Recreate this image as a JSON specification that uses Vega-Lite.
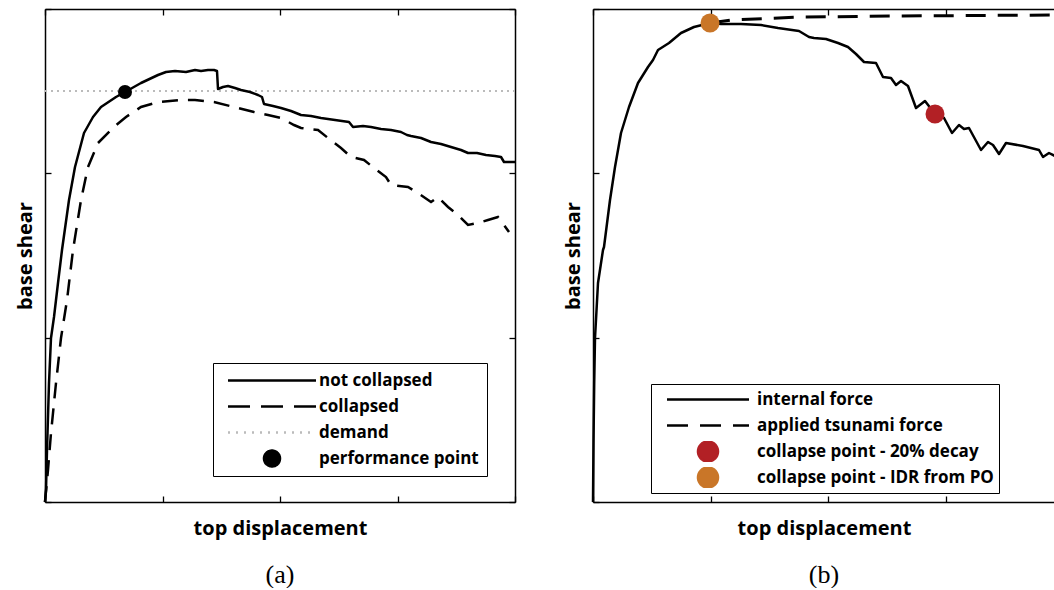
{
  "$schema": "https://vega.github.io/schema/vega-lite/v6.json",
  "background": "white",
  "padding": {"left": 15, "top": 8, "right": 0, "bottom": 0},
  "spacing": 78,
  "bounds": "flush",
  "datasets": {
    "a": [
      {"series": "demand", "x": 0, "y": 411},
      {"series": "demand", "x": 470, "y": 411},
      {"series": "not collapsed", "x": 0, "y": 0},
      {"series": "not collapsed", "x": 1, "y": 12},
      {"series": "not collapsed", "x": 2, "y": 52},
      {"series": "not collapsed", "x": 4, "y": 119},
      {"series": "not collapsed", "x": 6, "y": 164},
      {"series": "not collapsed", "x": 9, "y": 185},
      {"series": "not collapsed", "x": 13, "y": 219},
      {"series": "not collapsed", "x": 17, "y": 252},
      {"series": "not collapsed", "x": 24, "y": 302},
      {"series": "not collapsed", "x": 30, "y": 335},
      {"series": "not collapsed", "x": 39, "y": 369},
      {"series": "not collapsed", "x": 48, "y": 385},
      {"series": "not collapsed", "x": 56, "y": 395},
      {"series": "not collapsed", "x": 71, "y": 405},
      {"series": "not collapsed", "x": 80, "y": 410},
      {"series": "not collapsed", "x": 96, "y": 419},
      {"series": "not collapsed", "x": 113, "y": 427},
      {"series": "not collapsed", "x": 121, "y": 430},
      {"series": "not collapsed", "x": 130, "y": 431},
      {"series": "not collapsed", "x": 141, "y": 430},
      {"series": "not collapsed", "x": 150, "y": 432},
      {"series": "not collapsed", "x": 156, "y": 431},
      {"series": "not collapsed", "x": 163, "y": 432},
      {"series": "not collapsed", "x": 169, "y": 432},
      {"series": "not collapsed", "x": 172, "y": 431},
      {"series": "not collapsed", "x": 173, "y": 413},
      {"series": "not collapsed", "x": 178, "y": 415},
      {"series": "not collapsed", "x": 183, "y": 416},
      {"series": "not collapsed", "x": 190, "y": 414},
      {"series": "not collapsed", "x": 196, "y": 412},
      {"series": "not collapsed", "x": 205, "y": 410},
      {"series": "not collapsed", "x": 213, "y": 407},
      {"series": "not collapsed", "x": 217, "y": 405},
      {"series": "not collapsed", "x": 219, "y": 398},
      {"series": "not collapsed", "x": 228, "y": 396},
      {"series": "not collapsed", "x": 236, "y": 394},
      {"series": "not collapsed", "x": 246, "y": 391},
      {"series": "not collapsed", "x": 256, "y": 387},
      {"series": "not collapsed", "x": 266, "y": 386},
      {"series": "not collapsed", "x": 276, "y": 384},
      {"series": "not collapsed", "x": 290, "y": 382},
      {"series": "not collapsed", "x": 304, "y": 380},
      {"series": "not collapsed", "x": 308, "y": 375},
      {"series": "not collapsed", "x": 318, "y": 376},
      {"series": "not collapsed", "x": 326, "y": 375},
      {"series": "not collapsed", "x": 336, "y": 373},
      {"series": "not collapsed", "x": 346, "y": 372},
      {"series": "not collapsed", "x": 356, "y": 370},
      {"series": "not collapsed", "x": 362, "y": 367},
      {"series": "not collapsed", "x": 366, "y": 366},
      {"series": "not collapsed", "x": 376, "y": 364},
      {"series": "not collapsed", "x": 386, "y": 360},
      {"series": "not collapsed", "x": 396, "y": 358},
      {"series": "not collapsed", "x": 406, "y": 355},
      {"series": "not collapsed", "x": 416, "y": 352},
      {"series": "not collapsed", "x": 423, "y": 349},
      {"series": "not collapsed", "x": 432, "y": 349},
      {"series": "not collapsed", "x": 441, "y": 347},
      {"series": "not collapsed", "x": 450, "y": 346},
      {"series": "not collapsed", "x": 456, "y": 345},
      {"series": "not collapsed", "x": 459, "y": 340},
      {"series": "not collapsed", "x": 470, "y": 340},
      {"series": "collapsed", "x": 0, "y": 0},
      {"series": "collapsed", "x": 3, "y": 32},
      {"series": "collapsed", "x": 6, "y": 69},
      {"series": "collapsed", "x": 11, "y": 119},
      {"series": "collapsed", "x": 16, "y": 164},
      {"series": "collapsed", "x": 22, "y": 202},
      {"series": "collapsed", "x": 28, "y": 252},
      {"series": "collapsed", "x": 36, "y": 302},
      {"series": "collapsed", "x": 43, "y": 335},
      {"series": "collapsed", "x": 53, "y": 359},
      {"series": "collapsed", "x": 69, "y": 375},
      {"series": "collapsed", "x": 81, "y": 385},
      {"series": "collapsed", "x": 96, "y": 395},
      {"series": "collapsed", "x": 113, "y": 400},
      {"series": "collapsed", "x": 136, "y": 402},
      {"series": "collapsed", "x": 150, "y": 402},
      {"series": "collapsed", "x": 169, "y": 400},
      {"series": "collapsed", "x": 189, "y": 395},
      {"series": "collapsed", "x": 209, "y": 390},
      {"series": "collapsed", "x": 223, "y": 387},
      {"series": "collapsed", "x": 236, "y": 384},
      {"series": "collapsed", "x": 249, "y": 377},
      {"series": "collapsed", "x": 256, "y": 374},
      {"series": "collapsed", "x": 273, "y": 372},
      {"series": "collapsed", "x": 283, "y": 364},
      {"series": "collapsed", "x": 296, "y": 354},
      {"series": "collapsed", "x": 306, "y": 345},
      {"series": "collapsed", "x": 319, "y": 342},
      {"series": "collapsed", "x": 329, "y": 334},
      {"series": "collapsed", "x": 341, "y": 325},
      {"series": "collapsed", "x": 346, "y": 317},
      {"series": "collapsed", "x": 363, "y": 315},
      {"series": "collapsed", "x": 373, "y": 309},
      {"series": "collapsed", "x": 386, "y": 300},
      {"series": "collapsed", "x": 393, "y": 305},
      {"series": "collapsed", "x": 403, "y": 295},
      {"series": "collapsed", "x": 413, "y": 287},
      {"series": "collapsed", "x": 423, "y": 277},
      {"series": "collapsed", "x": 433, "y": 279},
      {"series": "collapsed", "x": 443, "y": 282},
      {"series": "collapsed", "x": 453, "y": 285},
      {"series": "collapsed", "x": 459, "y": 277},
      {"series": "collapsed", "x": 464, "y": 270},
      {"series": "performance point", "x": 80, "y": 410}
    ],
    "b": [
      {"series": "internal force", "x": 0, "y": 0},
      {"series": "internal force", "x": 0.5, "y": 60},
      {"series": "internal force", "x": 1.2, "y": 119},
      {"series": "internal force", "x": 2, "y": 164},
      {"series": "internal force", "x": 5, "y": 219},
      {"series": "internal force", "x": 10, "y": 252},
      {"series": "internal force", "x": 11, "y": 255},
      {"series": "internal force", "x": 17, "y": 302},
      {"series": "internal force", "x": 22, "y": 335},
      {"series": "internal force", "x": 28, "y": 369},
      {"series": "internal force", "x": 36, "y": 395},
      {"series": "internal force", "x": 45, "y": 419},
      {"series": "internal force", "x": 55, "y": 435},
      {"series": "internal force", "x": 60, "y": 442},
      {"series": "internal force", "x": 65, "y": 452},
      {"series": "internal force", "x": 76, "y": 459},
      {"series": "internal force", "x": 88, "y": 469},
      {"series": "internal force", "x": 101, "y": 475},
      {"series": "internal force", "x": 117, "y": 479},
      {"series": "internal force", "x": 128, "y": 478},
      {"series": "internal force", "x": 148, "y": 478},
      {"series": "internal force", "x": 168, "y": 477},
      {"series": "internal force", "x": 185, "y": 474},
      {"series": "internal force", "x": 206, "y": 471},
      {"series": "internal force", "x": 216, "y": 465},
      {"series": "internal force", "x": 221, "y": 464},
      {"series": "internal force", "x": 233, "y": 463},
      {"series": "internal force", "x": 245, "y": 459},
      {"series": "internal force", "x": 255, "y": 455},
      {"series": "internal force", "x": 263, "y": 448},
      {"series": "internal force", "x": 271, "y": 440},
      {"series": "internal force", "x": 283, "y": 439},
      {"series": "internal force", "x": 290, "y": 425},
      {"series": "internal force", "x": 298, "y": 424},
      {"series": "internal force", "x": 303, "y": 417},
      {"series": "internal force", "x": 308, "y": 421},
      {"series": "internal force", "x": 315, "y": 416},
      {"series": "internal force", "x": 323, "y": 394},
      {"series": "internal force", "x": 332, "y": 401},
      {"series": "internal force", "x": 342, "y": 388},
      {"series": "internal force", "x": 351, "y": 384},
      {"series": "internal force", "x": 359, "y": 369},
      {"series": "internal force", "x": 366, "y": 377},
      {"series": "internal force", "x": 371, "y": 373},
      {"series": "internal force", "x": 376, "y": 374},
      {"series": "internal force", "x": 388, "y": 352},
      {"series": "internal force", "x": 395, "y": 360},
      {"series": "internal force", "x": 400, "y": 357},
      {"series": "internal force", "x": 406, "y": 348},
      {"series": "internal force", "x": 413, "y": 359},
      {"series": "internal force", "x": 430, "y": 356},
      {"series": "internal force", "x": 446, "y": 352},
      {"series": "internal force", "x": 450, "y": 345},
      {"series": "internal force", "x": 456, "y": 349},
      {"series": "internal force", "x": 462, "y": 346},
      {"series": "applied tsunami force", "x": 117, "y": 479},
      {"series": "applied tsunami force", "x": 138, "y": 482},
      {"series": "applied tsunami force", "x": 208, "y": 485},
      {"series": "applied tsunami force", "x": 308, "y": 486},
      {"series": "applied tsunami force", "x": 462, "y": 487},
      {"series": "collapse point - 20% decay", "x": 342, "y": 388},
      {"series": "collapse point - IDR from PO", "x": 117, "y": 479}
    ]
  },
  "hconcat": [
    {
      "width": 470,
      "height": 493,
      "title": {"text": "(a)"},
      "data": {"name": "a"},
      "layer": [
        {
          "transform": [{"filter": "datum.series === 'demand'"}],
          "mark": {"type": "line", "strokeDash": [2, 4], "strokeWidth": 2},
          "encoding": {
            "x": {"field": "x", "type": "quantitative", "scale": {"domain": [0, 470], "nice": false, "zero": false}, "axis": {"orient": "bottom", "title": "top displacement", "values": [0, 117.5, 235, 352.5, 470]}},
            "y": {"field": "y", "type": "quantitative", "scale": {"domain": [0, 493], "nice": false, "zero": false}, "axis": {"orient": "left", "title": "base shear", "values": [0, 164.33, 328.67, 493]}},
            "color": {
              "field": "series", "type": "nominal",
              "scale": {"domain": ["not collapsed", "collapsed", "demand", "performance point"], "range": ["black", "black", "#bbbbbb", "black"]},
              "legend": {
                "title": null, "orient": "none", "legendX": 168, "legendY": 354,
                "padding": 8, "rowPadding": 7, "clipHeight": 19, "symbolSize": 256, "symbolOffset": 41.5, "labelOffset": 37.5,
                "encode": {
                  "symbols": {"update": {
                    "shape": {"signal": "datum.value === 'performance point' ? 'circle' : 'M-5.5,0H5.5'"},
                    "fill": {"signal": "datum.value === 'performance point' ? 'black' : 'transparent'"},
                    "stroke": {"signal": "datum.value === 'performance point' ? 'transparent' : (datum.value === 'demand' ? '#bbbbbb' : 'black')"},
                    "strokeDash": {"signal": "datum.value === 'collapsed' ? [22, 11] : (datum.value === 'demand' ? [2, 6] : [1, 0])"},
                    "opacity": {"value": 1}
                  }}
                }
              }
            }
          }
        },
        {
          "transform": [{"filter": "datum.series === 'collapsed'"}],
          "mark": {"type": "line", "strokeDash": [16, 10], "strokeWidth": 2.5},
          "encoding": {
            "x": {"field": "x", "type": "quantitative", "scale": {"domain": [0, 470], "nice": false, "zero": false}, "axis": null},
            "y": {"field": "y", "type": "quantitative", "scale": {"domain": [0, 493], "nice": false, "zero": false}, "axis": null},
            "color": {"field": "series", "type": "nominal"}
          }
        },
        {
          "transform": [{"filter": "datum.series === 'not collapsed'"}],
          "mark": {"type": "line", "strokeWidth": 2.5, "strokeJoin": "round"},
          "encoding": {
            "x": {"field": "x", "type": "quantitative", "scale": {"domain": [0, 470], "nice": false, "zero": false}, "axis": null},
            "y": {"field": "y", "type": "quantitative", "scale": {"domain": [0, 493], "nice": false, "zero": false}, "axis": null},
            "color": {"field": "series", "type": "nominal"}
          }
        },
        {
          "transform": [{"filter": "datum.series === 'performance point'"}],
          "mark": {"type": "point", "filled": true, "size": 196, "opacity": 1},
          "encoding": {
            "x": {"field": "x", "type": "quantitative", "scale": {"domain": [0, 470], "nice": false, "zero": false}, "axis": {"orient": "top", "title": null, "values": [0, 117.5, 235, 352.5, 470]}},
            "y": {"field": "y", "type": "quantitative", "scale": {"domain": [0, 493], "nice": false, "zero": false}, "axis": {"orient": "right", "title": null, "values": [0, 164.33, 328.67, 493]}},
            "color": {"field": "series", "type": "nominal"}
          }
        }
      ],
      "resolve": {"axis": {"x": "independent", "y": "independent"}}
    },
    {
      "width": 462,
      "height": 493,
      "title": {"text": "(b)"},
      "data": {"name": "b"},
      "layer": [
        {
          "transform": [{"filter": "datum.series === 'applied tsunami force'"}],
          "mark": {"type": "line", "strokeDash": [20, 12], "strokeWidth": 3},
          "encoding": {
            "x": {"field": "x", "type": "quantitative", "scale": {"domain": [0, 462], "nice": false, "zero": false}, "axis": {"orient": "bottom", "title": "top displacement", "values": [0, 117.5, 235, 352.5]}},
            "y": {"field": "y", "type": "quantitative", "scale": {"domain": [0, 493], "nice": false, "zero": false}, "axis": {"orient": "left", "title": "base shear", "values": [0, 164.33, 328.67, 493]}},
            "color": {
              "field": "series", "type": "nominal",
              "scale": {"domain": ["internal force", "applied tsunami force", "collapse point - 20% decay", "collapse point - IDR from PO"], "range": ["black", "black", "#b22025", "#c97628"]},
              "legend": {
                "title": null, "orient": "none", "legendX": 58, "legendY": 375,
                "padding": 5, "rowPadding": 5, "clipHeight": 21, "symbolSize": 400, "symbolOffset": 40.5, "labelOffset": 37.5,
                "encode": {
                  "symbols": {"update": {
                    "shape": {"signal": "indexof(datum.value, 'collapse') === 0 ? 'circle' : 'M-4.1,0H4.1'"},
                    "fill": {"signal": "datum.value === 'collapse point - 20% decay' ? '#b22025' : (datum.value === 'collapse point - IDR from PO' ? '#c97628' : 'transparent')"},
                    "stroke": {"signal": "indexof(datum.value, 'collapse') === 0 ? 'transparent' : 'black'"},
                    "strokeDash": {"signal": "datum.value === 'applied tsunami force' ? [21, 12] : [1, 0]"},
                    "opacity": {"value": 1}
                  }}
                }
              }
            }
          }
        },
        {
          "transform": [{"filter": "datum.series === 'internal force'"}],
          "mark": {"type": "line", "strokeWidth": 2.5, "strokeJoin": "round"},
          "encoding": {
            "x": {"field": "x", "type": "quantitative", "scale": {"domain": [0, 462], "nice": false, "zero": false}, "axis": null},
            "y": {"field": "y", "type": "quantitative", "scale": {"domain": [0, 493], "nice": false, "zero": false}, "axis": null},
            "color": {"field": "series", "type": "nominal"}
          }
        },
        {
          "transform": [{"filter": "datum.series === 'collapse point - 20% decay' || datum.series === 'collapse point - IDR from PO'"}],
          "mark": {"type": "point", "filled": true, "size": 361, "opacity": 1},
          "encoding": {
            "x": {"field": "x", "type": "quantitative", "scale": {"domain": [0, 462], "nice": false, "zero": false}, "axis": {"orient": "top", "title": null, "values": [0, 117.5, 235, 352.5]}},
            "y": {"field": "y", "type": "quantitative", "scale": {"domain": [0, 493], "nice": false, "zero": false}, "axis": null},
            "color": {"field": "series", "type": "nominal"}
          }
        }
      ],
      "resolve": {"axis": {"x": "independent", "y": "independent"}}
    }
  ],
  "resolve": {"scale": {"color": "independent"}, "legend": {"color": "independent"}},
  "config": {
    "view": {"stroke": null},
    "axis": {
      "labels": false, "grid": false,
      "domainColor": "black", "domainWidth": 1.5,
      "tickColor": "black", "tickWidth": 1.3, "tickSize": -6,
      "titleFont": "Open Sans", "titleFontSize": 20, "titleFontWeight": "bold", "titleColor": "black"
    },
    "axisX": {"titlePadding": 16},
    "axisY": {"titlePadding": 9},
    "legend": {
      "strokeColor": "black", "fillColor": "white",
      "labelFont": "Open Sans", "labelFontSize": 17, "labelFontWeight": "bold", "labelColor": "black", "labelLimit": 400,
      "symbolStrokeWidth": 2.5
    },
    "title": {"font": "Liberation Serif", "fontSize": 26, "fontWeight": "normal", "color": "black", "orient": "bottom", "anchor": "middle", "offset": 23}
  }
}
